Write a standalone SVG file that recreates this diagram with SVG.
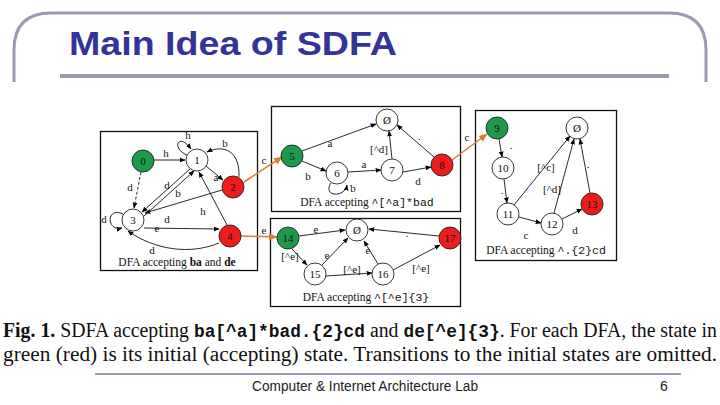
<svg xmlns="http://www.w3.org/2000/svg" width="720" height="405" viewBox="0 0 720 405">
<defs>
<marker id="ah" viewBox="0 0 10 10" refX="9" refY="5" markerWidth="6" markerHeight="6" orient="auto" markerUnits="userSpaceOnUse"><path d="M0,1 L10,5 L0,9 z" fill="#000"/></marker>
<marker id="ao" viewBox="0 0 10 10" refX="9" refY="5" markerWidth="9" markerHeight="9" orient="auto" markerUnits="userSpaceOnUse"><path d="M0,1 L10,5 L0,9 z" fill="#d4802f"/></marker>
<style>
.frame{fill:none;stroke:#9a9ab8;stroke-width:3}
.box{fill:#fff;stroke:#111;stroke-width:1.3}
.n{fill:#fff;stroke:#222;stroke-width:0.9}
.g{fill:#1c9a4a;stroke:#222;stroke-width:0.9}
.r{fill:#ee1c1c;stroke:#222;stroke-width:0.9}
.nt{font-family:"Liberation Serif",serif;font-size:11px;fill:#111;text-anchor:middle}
.lb{font-family:"Liberation Serif",serif;font-size:11px;fill:#111;text-anchor:middle}
.cap{font-family:"Liberation Serif",serif;font-size:11.5px;fill:#111;text-anchor:middle}
.e{fill:none;stroke:#111;stroke-width:0.9;marker-end:url(#ah)}
.o{fill:none;stroke:#d4802f;stroke-width:1.5;marker-end:url(#ao)}
.fig{font-family:"Liberation Serif",serif;font-size:20px;fill:#111}
.mono{font-family:"Liberation Mono",monospace;font-weight:bold;font-size:18px}
</style>
</defs>
<rect width="720" height="405" fill="#fff"/>
<path class="frame" d="M14,82 V50 Q14,13 51,13 H669 Q706,13 706,50 V82"/>
<line x1="60" y1="76" x2="669" y2="76" stroke="#9a9ab8" stroke-width="4"/>
<text x="69" y="55" font-family="Liberation Sans,Arial,sans-serif" font-weight="bold" font-size="33" fill="#333399" textLength="328" lengthAdjust="spacingAndGlyphs">Main Idea of SDFA</text>

<g id="boxes">
<rect class="box" x="100.5" y="131.5" width="157" height="139"/>
<rect class="box" x="271.5" y="106.5" width="189" height="105"/>
<rect class="box" x="270.5" y="218.5" width="190" height="88"/>
<rect class="box" x="475.5" y="110.5" width="141" height="150"/>
</g>

<g id="connectors">
<!-- left DFA -->
<path class="e" d="M154,160 L185,160"/>
<path class="e" d="M187,155 C171,149 178,131 191,149"/>
<path class="e" d="M239,177 C240,151 224,144 207,152"/>
<path class="e" d="M206,166 L223,180"/>
<path class="e" d="M141,172 L134,208" stroke-dasharray="3,2"/>
<path class="e" d="M190,169 L142,212"/>
<path class="e" d="M144,216 L194,171"/>
<path class="e" d="M222,190 L145,213"/>
<path class="e" d="M227,225 L199,172"/>
<path class="e" d="M144,228 L219,229"/>
<path class="e" d="M219,243 C190,255 155,250 128,231"/>
<path class="e" d="M123,214 C106,206 106,232 122,228"/>
<!-- top middle DFA -->
<path class="e" d="M302,151 L376,124"/>
<path class="e" d="M302,161 L326,171"/>
<path class="e" d="M331,183 C322,197 345,198 347,185"/>
<path class="e" d="M348,172 L381,170"/>
<path class="e" d="M392,159 L389,131"/>
<path class="e" d="M403,172 L431,167"/>
<path class="e" d="M434,157 L397,125"/>
<!-- lower middle DFA -->
<path class="e" d="M299,236 L345,230"/>
<path class="e" d="M439,236 L369,229"/>
<path class="e" d="M292,249 L307,265"/>
<path class="e" d="M322,265 L348,238"/>
<path class="e" d="M378,264 L364,241"/>
<path class="e" d="M326,276 L372,273"/>
<path class="e" d="M393,270 L440,245"/>
<!-- right DFA -->
<path class="e" d="M499,139 L502,157"/>
<path class="e" d="M504,179 L507,203"/>
<path class="e" d="M514,205 L570,136"/>
<path class="e" d="M519,217 L541,223"/>
<path class="e" d="M554,213 L574,139"/>
<path class="e" d="M562,219 L582,209"/>
<path class="e" d="M590,193 L580,139"/>
<!-- orange links -->
<path class="o" d="M244,182 L282,157"/>
<path class="o" d="M241,236 L277,237"/>
<path class="o" d="M452,160 L487,134"/>
</g>

<g id="edge-labels">
<text class="lb" x="166" y="157">h</text>
<text class="lb" x="188" y="139">h</text>
<text class="lb" x="225" y="147">b</text>
<text class="lb" x="216" y="181">a</text>
<text class="lb" x="130" y="191">d</text>
<text class="lb" x="167" y="189">d</text>
<text class="lb" x="178" y="197">b</text>
<text class="lb" x="203" y="215">h</text>
<text class="lb" x="167" y="223">d</text>
<text class="lb" x="157" y="232">e</text>
<text class="lb" x="152" y="254">d</text>
<text class="lb" x="104" y="223">d</text>
<text class="lb" x="264" y="164">c</text>
<text class="lb" x="264" y="234">e</text>
<text class="lb" x="467" y="141">c</text>
<text class="lb" x="330" y="147">a</text>
<text class="lb" x="308" y="180">b</text>
<text class="lb" x="353" y="192">b</text>
<text class="lb" x="364" y="168">a</text>
<text class="lb" x="379" y="153">[^d]</text>
<text class="lb" x="418" y="185">d</text>
<text class="lb" x="419" y="140">.</text>
<text class="lb" x="316" y="233">e</text>
<text class="lb" x="407" y="237">.</text>
<text class="lb" x="290" y="260">[^e]</text>
<text class="lb" x="327" y="259">e</text>
<text class="lb" x="368" y="254">e</text>
<text class="lb" x="352" y="273">[^e]</text>
<text class="lb" x="421" y="272">[^e]</text>
<text class="lb" x="511" y="149">.</text>
<text class="lb" x="502" y="194">.</text>
<text class="lb" x="546" y="171">[^c]</text>
<text class="lb" x="526" y="239">c</text>
<text class="lb" x="552" y="193">[^d]</text>
<text class="lb" x="575" y="234">d</text>
<text class="lb" x="588" y="168">.</text>
</g>

<g id="node-0"><circle class="g" cx="143" cy="161" r="11"/><text class="nt" x="143" y="165">0</text></g>
<g id="node-1"><circle class="n" cx="197" cy="160" r="11"/><text class="nt" x="197" y="164">1</text></g>
<g id="node-2"><circle class="r" cx="233" cy="187" r="11"/><text class="nt" x="233" y="191">2</text></g>
<g id="node-3"><circle class="n" cx="133" cy="220" r="11"/><text class="nt" x="133" y="224">3</text></g>
<g id="node-4"><circle class="r" cx="230" cy="236" r="11"/><text class="nt" x="230" y="240">4</text></g>
<g id="node-5"><circle class="g" cx="292" cy="156" r="11"/><text class="nt" x="292" y="160">5</text></g>
<g id="node-6"><circle class="n" cx="337" cy="173" r="11"/><text class="nt" x="337" y="177">6</text></g>
<g id="node-7"><circle class="n" cx="392" cy="170" r="11"/><text class="nt" x="392" y="174">7</text></g>
<g id="node-8"><circle class="r" cx="442" cy="165" r="11"/><text class="nt" x="442" y="169">8</text></g>
<g id="node-empty1"><circle class="n" cx="387" cy="120" r="11"/><text class="nt" x="387" y="124">Ø</text></g>
<g id="node-14"><circle class="g" cx="288" cy="238" r="11"/><text class="nt" x="288" y="242">14</text></g>
<g id="node-empty2"><circle class="n" cx="357" cy="230" r="11"/><text class="nt" x="357" y="234">Ø</text></g>
<g id="node-17"><circle class="r" cx="450" cy="238" r="11"/><text class="nt" x="450" y="242">17</text></g>
<g id="node-15"><circle class="n" cx="315" cy="274" r="11"/><text class="nt" x="315" y="278">15</text></g>
<g id="node-16"><circle class="n" cx="383" cy="274" r="11"/><text class="nt" x="383" y="278">16</text></g>
<g id="node-9"><circle class="g" cx="497" cy="128" r="11"/><text class="nt" x="497" y="132">9</text></g>
<g id="node-empty3"><circle class="n" cx="577" cy="128" r="11"/><text class="nt" x="577" y="132">Ø</text></g>
<g id="node-10"><circle class="n" cx="503" cy="168" r="11"/><text class="nt" x="503" y="172">10</text></g>
<g id="node-11"><circle class="n" cx="508" cy="214" r="11"/><text class="nt" x="508" y="218">11</text></g>
<g id="node-12"><circle class="n" cx="552" cy="224" r="11"/><text class="nt" x="552" y="228">12</text></g>
<g id="node-13"><circle class="r" cx="592" cy="204" r="11"/><text class="nt" x="592" y="208">13</text></g>

<g id="box-captions">
<text class="cap" x="177" y="266">DFA accepting <tspan font-weight="bold">ba</tspan>  and <tspan font-weight="bold">de</tspan></text>
<text class="cap" x="367" y="206">DFA accepting <tspan font-family="Liberation Mono,monospace">^[^a]*bad</tspan></text>
<text class="cap" x="366" y="301">DFA accepting <tspan font-family="Liberation Mono,monospace">^[^e]{3}</tspan></text>
<text class="cap" x="546" y="254">DFA accepting <tspan font-family="Liberation Mono,monospace">^.{2}cd</tspan></text>
</g>

<text class="fig" x="3" y="337" textLength="714" lengthAdjust="spacingAndGlyphs"><tspan font-weight="bold">Fig. 1.</tspan> SDFA accepting <tspan class="mono">ba[^a]*bad.{2}cd</tspan> and <tspan class="mono">de[^e]{3}</tspan>. For each DFA, the state in</text>
<text class="fig" x="3" y="361" textLength="714" lengthAdjust="spacingAndGlyphs">green (red) is its initial (accepting) state. Transitions to the initial states are omitted.</text>
<line x1="95" y1="374" x2="681" y2="374" stroke="#9a9ab8" stroke-width="2"/>
<text x="252" y="391" font-family="Liberation Sans,Arial,sans-serif" font-size="14" fill="#222" textLength="226" lengthAdjust="spacingAndGlyphs">Computer &amp; Internet Architecture Lab</text>
<text x="660" y="391" font-family="Liberation Sans,Arial,sans-serif" font-size="14" fill="#222">6</text>
</svg>
